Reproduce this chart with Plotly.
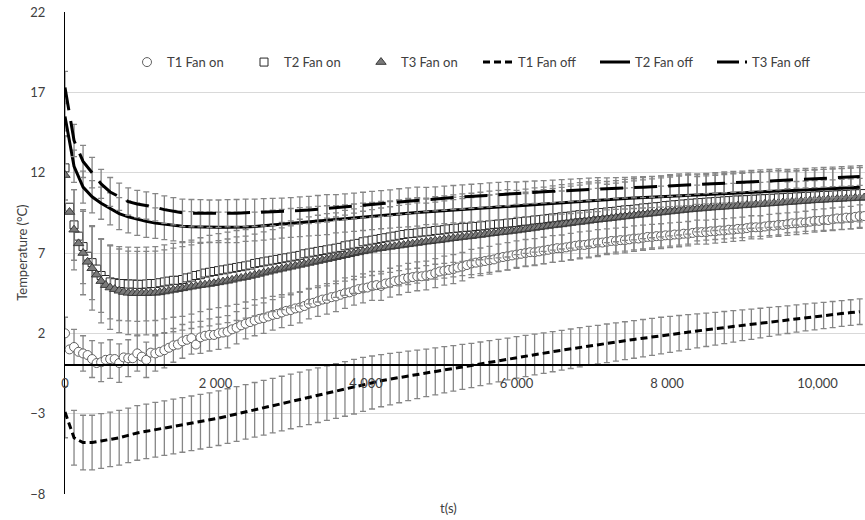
import numpy as np
import plotly.graph_objects as go

# Sampling intervals (s): fan-on probes logged every 60 s, fan-off every 120 s
STEP_ON = 60
STEP_OFF = 120

# ---- Fan on: mean temperatures (°C), one value per 60 s ----
t1_on = [
    2.0, 1.0, 1.15, 0.85, 0.75, 0.65, 0.4, 0.15, 0.2, 0.35,
    0.4, 0.4, 0.15, 0.5, 0.45, 0.45, 0.75, 0.55, 0.35, 0.8,
    0.75, 0.85, 0.95, 1.1, 1.25, 1.3, 1.5, 1.6, 1.7, 1.3,
    1.75, 1.85, 1.9, 1.9, 2.0, 2.05, 2.1, 2.25, 2.35, 2.5,
    2.6, 2.7, 2.8, 2.9, 2.95, 3.05, 3.15, 3.2, 3.3, 3.4,
    3.45, 3.55, 3.6, 3.7, 3.85, 3.9, 4.0, 4.1, 4.15, 4.25,
    4.3, 4.4, 4.5, 4.55, 4.65, 4.75, 4.8, 4.85, 4.95, 5.0,
    4.95, 5.1, 5.15, 5.25, 5.3, 5.4, 5.45, 5.5, 5.55, 5.55,
    5.6, 5.65, 5.75, 5.85, 5.9, 5.95, 6.0, 6.1, 6.15, 6.25,
    6.35, 6.4, 6.45, 6.5, 6.55, 6.6, 6.7, 6.75, 6.8, 6.85,
    6.9, 6.95, 7.0, 7.05, 7.05, 7.1, 7.15, 7.2, 7.25, 7.3,
    7.3, 7.35, 7.4, 7.45, 7.5, 7.5, 7.55, 7.6, 7.65, 7.65,
    7.7, 7.75, 7.75, 7.8, 7.8, 7.85, 7.9, 7.9, 7.95, 8.0,
    8.0, 8.05, 8.05, 8.1, 8.1, 8.15, 8.15, 8.2, 8.2, 8.25,
    8.3, 8.3, 8.3, 8.35, 8.35, 8.4, 8.4, 8.45, 8.45, 8.5,
    8.5, 8.55, 8.6, 8.6, 8.6, 8.65, 8.7, 8.7, 8.75, 8.75,
    8.8, 8.85, 8.85, 8.9, 8.9, 8.95, 9.0, 9.0, 9.05, 9.05,
    9.1, 9.15, 9.15, 9.2, 9.2, 9.25, 9.3, 9.3,
]
t2_on = [
    12.3, 9.85, 8.75, 8.05, 7.4, 6.8, 6.4, 6.0, 5.6, 5.35,
    5.2, 5.15, 5.1, 5.1, 5.07, 5.07, 5.05, 5.05, 5.07, 5.1,
    5.1, 5.15, 5.2, 5.25, 5.3, 5.3, 5.35, 5.45, 5.5, 5.6,
    5.65, 5.75, 5.8, 5.85, 5.9, 5.95, 6.0, 6.05, 6.1, 6.15,
    6.2, 6.25, 6.35, 6.4, 6.45, 6.5, 6.55, 6.6, 6.65, 6.7,
    6.75, 6.8, 6.85, 6.95, 7.0, 7.05, 7.1, 7.15, 7.2, 7.25,
    7.3, 7.35, 7.45, 7.5, 7.55, 7.6, 7.7, 7.75, 7.8, 7.85,
    7.9, 7.95, 8.0, 8.05, 8.1, 8.15, 8.2, 8.22, 8.25, 8.3,
    8.32, 8.35, 8.4, 8.42, 8.45, 8.5, 8.52, 8.55, 8.58, 8.6,
    8.62, 8.65, 8.68, 8.7, 8.75, 8.78, 8.8, 8.82, 8.85, 8.88,
    8.9, 8.95, 8.98, 9.0, 9.05, 9.08, 9.1, 9.15, 9.18, 9.2,
    9.25, 9.28, 9.3, 9.35, 9.38, 9.4, 9.42, 9.45, 9.5, 9.52,
    9.55, 9.58, 9.6, 9.65, 9.68, 9.7, 9.72, 9.75, 9.8, 9.82,
    9.85, 9.88, 9.9, 9.95, 9.97, 10.0, 10.02, 10.05, 10.07, 10.1,
    10.12, 10.14, 10.16, 10.18, 10.2, 10.22, 10.24, 10.26, 10.28, 10.3,
    10.3, 10.32, 10.34, 10.35, 10.37, 10.38, 10.4, 10.41, 10.43, 10.44,
    10.46, 10.47, 10.49, 10.5, 10.52, 10.53, 10.55, 10.56, 10.58, 10.59,
    10.6, 10.62, 10.63, 10.65, 10.66, 10.68, 10.69, 10.7,
]
t3_on = [
    11.85, 9.55, 8.45, 7.6, 7.0, 6.45, 6.05, 5.65, 5.25, 5.0,
    4.85, 4.75, 4.65, 4.57, 4.52, 4.5, 4.5, 4.5, 4.5, 4.52,
    4.52, 4.55, 4.6, 4.65, 4.7, 4.75, 4.8, 4.85, 4.9, 4.95,
    5.0, 5.03, 5.07, 5.12, 5.17, 5.22, 5.27, 5.33, 5.4, 5.45,
    5.5, 5.57, 5.63, 5.7, 5.77, 5.83, 5.9, 5.96, 6.02, 6.08,
    6.14, 6.2, 6.26, 6.32, 6.38, 6.44, 6.5, 6.56, 6.62, 6.68,
    6.74, 6.8, 6.86, 6.92, 6.98, 7.04, 7.1, 7.15, 7.2, 7.26,
    7.3, 7.34, 7.38, 7.42, 7.46, 7.5, 7.54, 7.58, 7.62, 7.66,
    7.7, 7.73, 7.77, 7.8, 7.84, 7.88, 7.92, 7.95, 7.99, 8.02,
    8.05, 8.09, 8.12, 8.16, 8.2, 8.23, 8.27, 8.3, 8.33, 8.37,
    8.4, 8.44, 8.48, 8.52, 8.56, 8.6, 8.64, 8.68, 8.72, 8.75,
    8.78, 8.82, 8.86, 8.9, 8.93, 8.96, 9.0, 9.04, 9.07, 9.1,
    9.13, 9.17, 9.2, 9.24, 9.27, 9.3, 9.34, 9.37, 9.4, 9.43,
    9.46, 9.49, 9.52, 9.55, 9.58, 9.61, 9.64, 9.67, 9.7, 9.72,
    9.75, 9.77, 9.8, 9.82, 9.84, 9.86, 9.88, 9.9, 9.92, 9.94,
    9.96, 9.98, 10.0, 10.02, 10.04, 10.06, 10.08, 10.1, 10.12, 10.14,
    10.16, 10.18, 10.2, 10.22, 10.24, 10.26, 10.28, 10.3, 10.31, 10.33,
    10.34, 10.36, 10.37, 10.39, 10.4, 10.42, 10.43, 10.45,
]

# Fan on: standard deviations (°C), one value per 120 s
t1_on_sd = [
    1.0, 1.1, 1.1, 1.15, 1.2, 1.2, 1.2, 1.15, 1.1, 1.1,
    1.1, 1.1, 1.05, 1.05, 1.0, 1.0, 1.0, 1.0, 1.0, 1.0,
    0.95, 0.95, 0.95, 0.95, 0.95, 0.95, 0.95, 0.95, 0.95, 0.95,
    0.95, 0.95, 0.9, 0.9, 0.9, 0.9, 0.9, 0.9, 0.9, 0.9,
    0.9, 0.9, 0.9, 0.9, 0.88, 0.88, 0.86, 0.86, 0.85, 0.85,
    0.85, 0.84, 0.84, 0.83, 0.83, 0.82, 0.82, 0.81, 0.81, 0.8,
    0.8, 0.8, 0.79, 0.79, 0.78, 0.78, 0.77, 0.77, 0.76, 0.76,
    0.75, 0.75, 0.74, 0.74, 0.73, 0.73, 0.72, 0.72, 0.71, 0.71,
    0.7, 0.7, 0.7, 0.7, 0.7, 0.7, 0.7, 0.7, 0.7,
]
t2_on_sd = [
    2.0, 2.2, 2.3, 2.3, 2.3, 2.3, 2.3, 2.3, 2.3, 2.3,
    2.3, 2.3, 2.3, 2.3, 2.3, 2.3, 2.3, 2.3, 2.3, 2.3,
    2.25, 2.25, 2.25, 2.25, 2.25, 2.25, 2.25, 2.25, 2.25, 2.25,
    2.2, 2.2, 2.2, 2.2, 2.2, 2.2, 2.2, 2.2, 2.2, 2.2,
    2.1, 2.1, 2.1, 2.1, 2.1, 2.1, 2.1, 2.1, 2.1, 2.1,
    2.0, 2.0, 2.0, 2.0, 2.0, 2.0, 2.0, 2.0, 2.0, 2.0,
    1.9, 1.9, 1.9, 1.9, 1.9, 1.9, 1.9, 1.9, 1.9, 1.9,
    1.8, 1.8, 1.8, 1.8, 1.8, 1.8, 1.8, 1.8, 1.8, 1.8,
    1.75, 1.75, 1.75, 1.75, 1.75, 1.75, 1.75, 1.75, 1.75,
]
t3_on_sd = [
    2.4, 2.5, 2.6, 2.6, 2.6, 2.6, 2.6, 2.6, 2.6, 2.6,
    2.6, 2.6, 2.6, 2.6, 2.6, 2.6, 2.6, 2.6, 2.6, 2.6,
    2.55, 2.55, 2.55, 2.55, 2.55, 2.55, 2.55, 2.55, 2.55, 2.55,
    2.5, 2.5, 2.5, 2.5, 2.5, 2.5, 2.5, 2.5, 2.5, 2.5,
    2.4, 2.4, 2.4, 2.4, 2.4, 2.4, 2.4, 2.4, 2.4, 2.4,
    2.3, 2.3, 2.3, 2.3, 2.3, 2.3, 2.3, 2.3, 2.3, 2.3,
    2.15, 2.15, 2.15, 2.15, 2.15, 2.15, 2.15, 2.15, 2.15, 2.15,
    2.0, 2.0, 2.0, 2.0, 2.0, 2.0, 2.0, 2.0, 2.0, 2.0,
    1.9, 1.9, 1.9, 1.9, 1.9, 1.9, 1.9, 1.9, 1.9,
]

# ---- Fan off: mean temperatures (°C), one value per 120 s ----
t1_off = [
    -2.9, -4.5, -4.8, -4.8, -4.7, -4.6, -4.5, -4.35, -4.2, -4.1,
    -4.0, -3.9, -3.8, -3.7, -3.6, -3.5, -3.4, -3.28, -3.15, -3.02,
    -2.89, -2.76, -2.63, -2.5, -2.37, -2.24, -2.11, -1.98, -1.85, -1.72,
    -1.59, -1.46, -1.32, -1.18, -1.06, -0.95, -0.85, -0.75, -0.65, -0.55,
    -0.46, -0.37, -0.27, -0.18, -0.09, 0.0, 0.1, 0.2, 0.3, 0.4,
    0.5, 0.59, 0.68, 0.77, 0.86, 0.95, 1.04, 1.13, 1.22, 1.3,
    1.38, 1.46, 1.54, 1.62, 1.7, 1.78, 1.86, 1.94, 2.01, 2.08,
    2.15, 2.22, 2.29, 2.36, 2.43, 2.5, 2.57, 2.64, 2.71, 2.78,
    2.85, 2.92, 2.99, 3.05, 3.11, 3.17, 3.23, 3.29, 3.35,
]
t2_off = [
    15.5, 12.4, 11.1, 10.5, 10.1, 9.75, 9.45, 9.25, 9.1, 8.97,
    8.86, 8.78, 8.7, 8.66, 8.63, 8.61, 8.6, 8.6, 8.6, 8.6,
    8.62, 8.65, 8.7, 8.76, 8.82, 8.87, 8.92, 8.96, 9.0, 9.04,
    9.1, 9.15, 9.2, 9.25, 9.3, 9.36, 9.4, 9.44, 9.48, 9.52,
    9.56, 9.6, 9.63, 9.67, 9.71, 9.74, 9.78, 9.82, 9.86, 9.9,
    9.94, 9.98, 10.02, 10.06, 10.1, 10.14, 10.18, 10.22, 10.26, 10.3,
    10.33, 10.36, 10.39, 10.42, 10.45, 10.48, 10.51, 10.54, 10.57, 10.6,
    10.63, 10.66, 10.68, 10.7, 10.73, 10.75, 10.78, 10.8, 10.83, 10.86,
    10.88, 10.9, 10.93, 10.95, 10.98, 11.0, 11.03, 11.06, 11.1,
]
t3_off = [
    17.3, 14.0, 12.7, 12.0, 11.3, 10.8, 10.5, 10.2, 10.05, 9.95,
    9.85, 9.7, 9.6, 9.5, 9.48, 9.47, 9.45, 9.45, 9.47, 9.48,
    9.5, 9.5, 9.53, 9.55, 9.57, 9.6, 9.64, 9.68, 9.73, 9.78,
    9.83, 9.88, 9.93, 9.98, 10.03, 10.08, 10.13, 10.2, 10.25, 10.3,
    10.33, 10.37, 10.41, 10.45, 10.49, 10.53, 10.57, 10.61, 10.65, 10.69,
    10.72, 10.75, 10.78, 10.81, 10.84, 10.87, 10.9, 10.93, 10.96, 10.99,
    11.02, 11.04, 11.06, 11.08, 11.1, 11.12, 11.14, 11.17, 11.2, 11.23,
    11.26, 11.29, 11.32, 11.35, 11.38, 11.41, 11.44, 11.47, 11.5, 11.53,
    11.56, 11.58, 11.6, 11.62, 11.65, 11.68, 11.7, 11.73, 11.76,
]

# Fan off: standard deviations (°C), one value per 120 s
t1_off_sd = [
    1.6, 1.7, 1.7, 1.7, 1.7, 1.7, 1.7, 1.7, 1.7, 1.7,
    1.7, 1.7, 1.7, 1.7, 1.7, 1.7, 1.7, 1.7, 1.7, 1.7,
    1.7, 1.7, 1.7, 1.7, 1.7, 1.7, 1.7, 1.7, 1.7, 1.7,
    1.7, 1.7, 1.7, 1.68, 1.65, 1.62, 1.6, 1.57, 1.54, 1.51,
    1.48, 1.46, 1.44, 1.42, 1.4, 1.38, 1.36, 1.34, 1.32, 1.3,
    1.29, 1.28, 1.27, 1.26, 1.25, 1.24, 1.23, 1.22, 1.21, 1.2,
    1.2, 1.19, 1.18, 1.17, 1.16, 1.15, 1.14, 1.12, 1.1, 1.08,
    1.06, 1.04, 1.02, 1.0, 0.98, 0.96, 0.94, 0.92, 0.9, 0.88,
    0.86, 0.85, 0.84, 0.83, 0.82, 0.81, 0.8, 0.8, 0.8,
]
t2_off_sd = [
    0.9, 1.0, 1.0, 1.0, 1.0, 1.0, 1.0, 1.0, 1.0, 1.0,
    0.95, 0.95, 0.95, 0.95, 0.95, 0.95, 0.95, 0.95, 0.95, 0.95,
    0.9, 0.9, 0.9, 0.9, 0.9, 0.9, 0.9, 0.9, 0.9, 0.9,
    0.85, 0.85, 0.85, 0.85, 0.85, 0.85, 0.85, 0.85, 0.85, 0.85,
    0.8, 0.8, 0.8, 0.8, 0.8, 0.8, 0.8, 0.8, 0.8, 0.8,
    0.72, 0.72, 0.72, 0.72, 0.72, 0.72, 0.72, 0.72, 0.72, 0.72,
    0.65, 0.65, 0.65, 0.65, 0.65, 0.65, 0.65, 0.65, 0.65, 0.65,
    0.6, 0.6, 0.6, 0.6, 0.6, 0.6, 0.6, 0.6, 0.6, 0.6,
    0.55, 0.55, 0.55, 0.55, 0.55, 0.55, 0.55, 0.55, 0.55,
]
t3_off_sd = [
    1.0, 1.0, 1.0, 0.95, 0.9, 0.9, 0.85, 0.85, 0.85, 0.85,
    0.85, 0.85, 0.85, 0.85, 0.85, 0.85, 0.85, 0.85, 0.85, 0.85,
    0.85, 0.85, 0.85, 0.85, 0.85, 0.85, 0.85, 0.85, 0.85, 0.85,
    0.8, 0.8, 0.8, 0.8, 0.8, 0.8, 0.8, 0.8, 0.8, 0.8,
    0.75, 0.75, 0.75, 0.75, 0.75, 0.75, 0.75, 0.75, 0.75, 0.75,
    0.7, 0.7, 0.7, 0.7, 0.7, 0.7, 0.7, 0.7, 0.7, 0.7,
    0.65, 0.65, 0.65, 0.65, 0.65, 0.65, 0.65, 0.65, 0.65, 0.65,
    0.6, 0.6, 0.6, 0.6, 0.6, 0.6, 0.6, 0.6, 0.6, 0.6,
    0.55, 0.55, 0.55, 0.55, 0.55, 0.55, 0.55, 0.55, 0.55,
]

# Axis ticks
x_tickvals = [0, 2000, 4000, 6000, 8000, 10000]
x_ticktext = ["0", "2 000", "4 000", "6 000", "8 000", "10,000"]
Y_MIN, Y_MAX = -8, 22

t_on = np.arange(len(t1_on)) * STEP_ON
t_off = np.arange(len(t1_off)) * STEP_OFF


def every_other(sd, n):
    """Spread 120 s deviations onto the 60 s grid (bars on alternate points)."""
    arr = np.full(n, np.nan)
    arr[0:2 * len(sd):2] = sd
    return arr


BAR_COLOR = "#868686"


def err(arr):
    return dict(type="data", array=np.asarray(arr, dtype=float), symmetric=True,
                color=BAR_COLOR, thickness=1.3, width=3)


fig = go.Figure()

fig.add_trace(go.Scatter(
    x=t_on, y=t1_on, name="T1 Fan on", mode="markers",
    marker=dict(symbol="circle", size=9, color="white",
                line=dict(color="#606060", width=1)),
    error_y=err(every_other(t1_on_sd, len(t1_on))),
))
fig.add_trace(go.Scatter(
    x=t_on, y=t2_on, name="T2 Fan on", mode="markers",
    marker=dict(symbol="square", size=8, color="white",
                line=dict(color="#262626", width=1)),
    error_y=err(every_other(t2_on_sd, len(t2_on))),
))
fig.add_trace(go.Scatter(
    x=t_on, y=t3_on, name="T3 Fan on", mode="markers",
    marker=dict(symbol="triangle-up", size=9, color="#7a7a7a",
                line=dict(color="#3a3a3a", width=1)),
    error_y=err(every_other(t3_on_sd, len(t3_on))),
))
fig.add_trace(go.Scatter(
    x=t_off, y=t1_off, name="T1 Fan off", mode="lines",
    line=dict(color="black", width=3, dash="7px,4px"),
    error_y=err(t1_off_sd),
))
fig.add_trace(go.Scatter(
    x=t_off, y=t2_off, name="T2 Fan off", mode="lines",
    line=dict(color="black", width=3),
    error_y=err(t2_off_sd),
))
fig.add_trace(go.Scatter(
    x=t_off, y=t3_off, name="T3 Fan off", mode="lines", showlegend=False,
    line=dict(color="black", width=3, dash="23px,11px"),
    error_y=err(t3_off_sd),
))
# legend key for T3 Fan off (long dash + dot)
fig.add_trace(go.Scatter(
    x=[None], y=[None], name="T3 Fan off", mode="lines",
    line=dict(color="black", width=3, dash="22px,6px,3px,10px"),
))

FONT = "Lato, 'Liberation Sans', sans-serif"

fig.update_layout(
    width=865, height=520,
    margin=dict(l=65, r=0, t=12, b=26),
    plot_bgcolor="white", paper_bgcolor="white",
    font=dict(family=FONT, size=13, color="#404040"),
    showlegend=True,
    legend=dict(orientation="h", x=0.0775, xanchor="left", y=0.896, yanchor="middle",
                bgcolor="rgba(0,0,0,0)", font=dict(size=13, color="#404040"),
                traceorder="normal", entrywidth=72),
    xaxis=dict(
        range=[0, 10630], anchor="free",
        position=(0 - Y_MIN) / (Y_MAX - Y_MIN),
        showline=True, linecolor="black", linewidth=1.5,
        showgrid=False, zeroline=False, ticks="",
        tickvals=x_tickvals, ticktext=x_ticktext, ticklabelstandoff=6,
    ),
    yaxis=dict(
        range=[Y_MIN, Y_MAX], tick0=2, dtick=5,
        showgrid=True, gridcolor="#d9d9d9", gridwidth=1,
        showline=True, linecolor="black", linewidth=1,
        zeroline=False, ticks="", ticklabelstandoff=16,
    ),
    annotations=[
        dict(text="Temperature (°C)", xref="paper", yref="paper",
             x=-0.054, y=0.5, textangle=-90, showarrow=False,
             xanchor="center", yanchor="middle",
             font=dict(size=13, color="#404040")),
        dict(text="t(s)", xref="paper", yref="paper",
             x=0.479, y=-0.029, showarrow=False,
             xanchor="center", yanchor="middle",
             font=dict(size=13, color="#404040")),
    ],
)

fig.write_html("out.html")
